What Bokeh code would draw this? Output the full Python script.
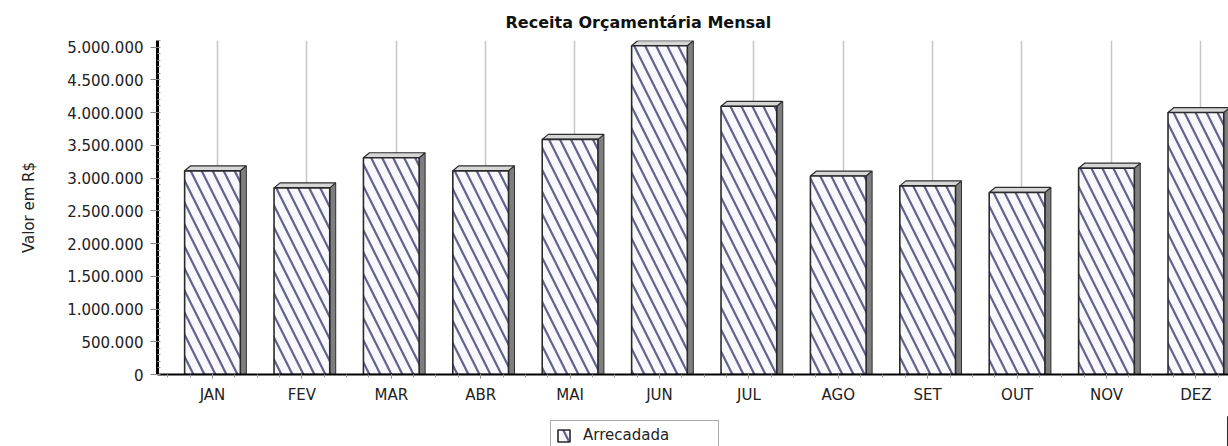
import numpy as np
from bokeh.plotting import figure
from bokeh.layouts import column
from bokeh.models import FixedTicker, Legend, LegendItem, ColumnDataSource, Range1d
from bokeh.embed import file_html
from bokeh.resources import INLINE

# ---------------- data ----------------
months = ["JAN", "FEV", "MAR", "ABR", "MAI", "JUN", "JUL", "AGO", "SET", "OUT", "NOV", "DEZ"]
arrecadada = [3110000, 2850000, 3310000, 3110000, 3590000, 5020000,
              4095000, 3030000, 2880000, 2780000, 3150000, 4000000]
y_ticks = [0, 500000, 1000000, 1500000, 2000000, 2500000,
           3000000, 3500000, 4000000, 4500000, 5000000]
y_tick_labels = ["0", "500.000", "1.000.000", "1.500.000", "2.000.000", "2.500.000",
                 "3.000.000", "3.500.000", "4.000.000", "4.500.000", "5.000.000"]
series_name = "Arrecadada"
title_text = "Receita Orçamentária Mensal"
y_axis_title = "Valor em R$"

# ---------------- layout constants ----------------
W, H, H_LEG = 1228, 416, 30
B_LEFT, B_TOP, B_BOTTOM, B_RIGHT = 157, 40, 42, 0
X0, X1 = 0.385, 12.365
Y0, Y1 = 0, 5100000
frame_w = W - B_LEFT - B_RIGHT
frame_h = H - B_TOP - B_BOTTOM
px_x = frame_w / (X1 - X0)
px_y = frame_h / (Y1 - Y0)
DEPTH_X, DEPTH_Y = 6, 5          # 3D depth in pixels
ddx = DEPTH_X / px_x
ddy = DEPTH_Y / px_y
BAR_W = 0.623
hw = BAR_W / 2
FONT = "DejaVu Sans"

BAR_STYLE = dict(fill_color="#f8f8fe", line_color="#2a2a2a", line_width=1.6,
                 hatch_pattern="\\", hatch_color="#62628a", hatch_scale=22, hatch_weight=2.2)

xs_pos = [i + 1 for i in range(len(months))]

src = ColumnDataSource(dict(x=xs_pos, top=arrecadada, month=months))

side_xs = [[x + hw, x + hw + ddx, x + hw + ddx, x + hw] for x in xs_pos]
side_ys = [[0, 0, v + ddy, v] for v in arrecadada]
top_xs = [[x - hw, x + hw, x + hw + ddx, x - hw + ddx] for x in xs_pos]
top_ys = [[v, v, v + ddy, v + ddy] for v in arrecadada]

p = figure(width=W, height=H, output_backend="svg", toolbar_location=None,
           x_range=Range1d(X0, X1), y_range=Range1d(Y0, Y1),
           min_border_left=B_LEFT, min_border_top=B_TOP,
           min_border_bottom=B_BOTTOM, min_border_right=B_RIGHT,
           background_fill_color="white", border_fill_color="white")
p.outline_line_color = None

# grid: vertical lines behind bars (slightly shifted by depth)
p.ygrid.visible = False
p.xgrid.ticker = FixedTicker(ticks=[x + ddx * 0.8 for x in xs_pos])
p.xgrid.grid_line_color = "#c6c6c6"
p.xgrid.grid_line_width = 1.5

# 3D bars
p.patches(side_xs, side_ys, fill_color="#7e7e7e", line_color="#2e2e2e", line_width=1)
p.patches(top_xs, top_ys, fill_color="#d6d6d6", line_color="#2e2e2e", line_width=1.2)
front = p.vbar(x="x", top="top", bottom=0, width=BAR_W, source=src, **BAR_STYLE)

# x axis
xa = p.xaxis[0]
xa.ticker = FixedTicker(ticks=xs_pos,
                        minor_ticks=list(np.arange(0.5, 12.4, 0.25)))
xa.major_label_overrides = {x: m for x, m in zip(xs_pos, months)}
xa.axis_line_color = "black"
xa.axis_line_width = 2
xa.major_tick_in = 0
xa.major_tick_out = 4
xa.major_tick_line_color = "#777"
xa.minor_tick_in = 0
xa.minor_tick_out = 3
xa.minor_tick_line_color = "#999"
xa.major_label_standoff = 7
xa.major_label_text_font = FONT
xa.major_label_text_font_size = "15px"
xa.major_label_text_color = "#222"

# y axis
ya = p.yaxis[0]
ya.ticker = FixedTicker(ticks=y_ticks, minor_ticks=list(np.arange(0, 5100001, 100000)))
ya.major_label_overrides = {t: l for t, l in zip(y_ticks, y_tick_labels)}
ya.axis_line_color = "black"
ya.axis_line_width = 3
ya.major_tick_in = 0
ya.major_tick_out = 7
ya.major_tick_line_color = "#888"
ya.minor_tick_in = 3
ya.minor_tick_out = 0
ya.minor_tick_line_color = "#999"
ya.major_label_standoff = 7
ya.major_label_text_font = FONT
ya.major_label_text_font_size = "15px"
ya.major_label_text_color = "#222"
ya.axis_label = y_axis_title
ya.axis_label_text_font = FONT
ya.axis_label_text_font_size = "15px"
ya.axis_label_text_font_style = "normal"
ya.axis_label_text_color = "#222"
ya.axis_label_standoff = 26

# title
p.title.text = title_text
p.title.text_font = FONT
p.title.text_font_size = "16px"
p.title.text_font_style = "bold"
p.title.text_color = "#111"
p.title.align = "left"
p.title.offset = 348
p.title.standoff = 18

# legend strip below the chart (proxy bars sit outside its visible range)
p2 = figure(width=W, height=H_LEG, output_backend="svg", toolbar_location=None,
            x_range=Range1d(-10, -9), y_range=Range1d(0, 1),
            x_axis_type=None, y_axis_type=None, min_border=0,
            background_fill_color="white", border_fill_color="white")
p2.outline_line_color = None
p2.grid.visible = False
legend_proxy = p2.vbar(x="x", top="top", bottom=0, width=BAR_W, source=src, **BAR_STYLE)
legend = Legend(items=[LegendItem(label=series_name, renderers=[legend_proxy])],
                location=(393, -4), orientation="horizontal",
                border_line_color="#555", border_line_width=1,
                background_fill_color="white", padding=5, margin=0,
                glyph_width=15, glyph_height=15, label_standoff=12, label_width=130,
                label_text_font=FONT, label_text_font_size="15px", label_text_color="#222")
p2.add_layout(legend)

layout = column(p, p2, spacing=0)
open("out.html", "w").write(file_html(layout, INLINE))
